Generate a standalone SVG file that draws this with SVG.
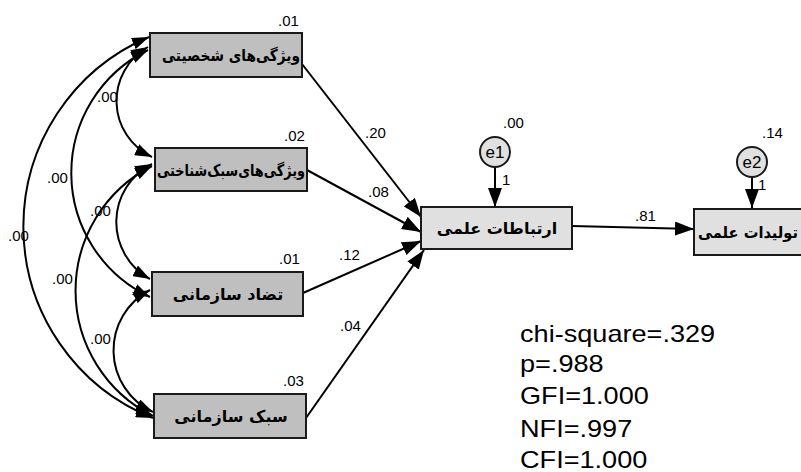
<svg xmlns="http://www.w3.org/2000/svg" width="801" height="472" viewBox="0 0 801 472">
<style>
.box{fill:#bfbfbf;stroke:#1a1a1a;stroke-width:2}
.box2{fill:#e0e0e0;stroke:#1a1a1a;stroke-width:2}
.err{fill:#e0e0e0;stroke:#1a1a1a;stroke-width:2}
.fa{font-family:"DejaVu Sans",sans-serif;font-weight:bold;font-size:16px;fill:#000}
.num{font-family:"Liberation Sans",Arial,sans-serif;font-size:15px;fill:#000}
.lbl{font-family:"Liberation Sans",Arial,sans-serif;font-size:17px;fill:#000}
.stat{font-family:"Liberation Sans",Arial,sans-serif;font-size:24px;fill:#000}
.ln{fill:none;stroke:#000;stroke-width:2}
</style>
<defs>
<marker id="ah" markerUnits="userSpaceOnUse" markerWidth="20" markerHeight="14" refX="19" refY="7" orient="auto-start-reverse">
<path d="M0,0 L19,7 L0,14 z" fill="#000"/>
</marker>
<marker id="ch" markerUnits="userSpaceOnUse" markerWidth="18" markerHeight="12" refX="17" refY="6" orient="auto-start-reverse">
<path d="M0,0 L17,6 L0,12 z" fill="#000"/>
</marker>
</defs>

<g id="connectors">
<path class="ln" d="M148,47 A62,62 0 0,0 152,157" marker-start="url(#ch)" marker-end="url(#ch)"/>
<path class="ln" d="M148,50 A137,137 0 0,0 150,297" marker-start="url(#ch)" marker-end="url(#ch)"/>
<path class="ln" d="M149,37 A206,206 0 0,0 153,418" marker-start="url(#ch)" marker-end="url(#ch)"/>
<path class="ln" d="M152,164 A65,65 0 0,0 150,279" marker-start="url(#ch)" marker-end="url(#ch)"/>
<path class="ln" d="M152,166 A140,140 0 0,0 153,416" marker-start="url(#ch)" marker-end="url(#ch)"/>
<path class="ln" d="M150,290 A68,68 0 0,0 153,412" marker-start="url(#ch)" marker-end="url(#ch)"/>
<path class="ln" d="M302,64 L421,217" marker-end="url(#ah)"/>
<path class="ln" d="M307,170 L421,232" marker-end="url(#ah)"/>
<path class="ln" d="M303,293 L421,241" marker-end="url(#ah)"/>
<path class="ln" d="M306,418 L424,250" marker-end="url(#ah)"/>
<path class="ln" d="M572,226 L694,229" marker-end="url(#ah)"/>
<path class="ln" d="M495,167 L495,207" marker-end="url(#ah)"/>
<path class="ln" d="M752,177 L752,208" marker-end="url(#ah)"/>
</g>

<g id="connector-labels">
<text class="num" x="97" y="102">.00</text>
<text class="num" x="47" y="183">.00</text>
<text class="num" x="90" y="216">.00</text>
<text class="num" x="8" y="241">.00</text>
<text class="num" x="52" y="284">.00</text>
<text class="num" x="90" y="344">.00</text>
<text class="num" x="365" y="138">.20</text>
<text class="num" x="368" y="197">.08</text>
<text class="num" x="339" y="260">.12</text>
<text class="num" x="340" y="331">.04</text>
<text class="num" x="635" y="221">.81</text>
<text class="num" x="502" y="185">1</text>
<text class="num" x="758" y="190">1</text>
</g>

<g id="n1">
<rect class="box" x="150" y="33" width="152" height="44"/>
<text class="fa" x="231" y="61" text-anchor="middle" direction="rtl" textLength="138" lengthAdjust="spacingAndGlyphs">ویژگی‌های شخصیتی</text>
<text class="num" x="278" y="26">.01</text>
</g>
<g id="n2">
<rect class="box" x="155" y="148" width="152" height="43"/>
<text class="fa" x="231" y="176" text-anchor="middle" direction="rtl" textLength="148" lengthAdjust="spacingAndGlyphs">ویژگی‌های‌سبک‌شناختی</text>
<text class="num" x="284" y="141">.02</text>
</g>
<g id="n3">
<rect class="box" x="152" y="272" width="151" height="44"/>
<text class="fa" x="228" y="300" text-anchor="middle" direction="rtl">تضاد سازمانی</text>
<text class="num" x="279" y="264">.01</text>
</g>
<g id="n4">
<rect class="box" x="154" y="394" width="152" height="44"/>
<text class="fa" x="231" y="422" text-anchor="middle" direction="rtl">سبک سازمانی</text>
<text class="num" x="283" y="386">.03</text>
</g>
<g id="n5">
<rect class="box2" x="421" y="207" width="151" height="42"/>
<text class="fa" x="497" y="234" text-anchor="middle" direction="rtl">ارتباطات علمی</text>
</g>
<g id="n6">
<rect class="box2" x="694" y="209" width="152" height="46"/>
<text class="fa" x="748" y="238" text-anchor="middle" direction="rtl" textLength="100" lengthAdjust="spacingAndGlyphs">تولیدات علمی</text>
</g>
<g id="e1">
<circle class="err" cx="495" cy="152" r="15"/>
<text class="lbl" x="495" y="158" text-anchor="middle">e1</text>
<text class="num" x="503" y="128">.00</text>
</g>
<g id="e2">
<circle class="err" cx="752" cy="162" r="15"/>
<text class="lbl" x="752" y="168" text-anchor="middle">e2</text>
<text class="num" x="762" y="138">.14</text>
</g>

<g id="fit" transform="translate(520,0) scale(1.13,1)">
<text class="stat" x="0" y="342">chi-square=.329</text>
<text class="stat" x="0" y="372">p=.988</text>
<text class="stat" x="0" y="404">GFI=1.000</text>
<text class="stat" x="0" y="437">NFI=.997</text>
<text class="stat" x="0" y="468">CFI=1.000</text>
</g>
</svg>
